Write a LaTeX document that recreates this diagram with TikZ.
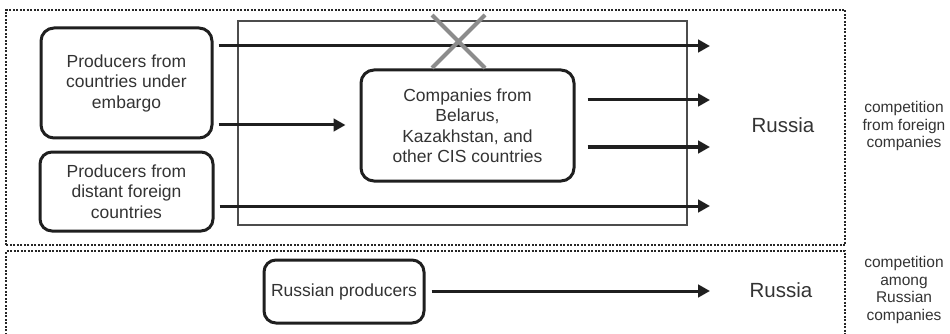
\documentclass[tikz,border=0pt]{standalone}
\usepackage{fontspec}
\setmainfont{Liberation Sans}
\usetikzlibrary{arrows.meta}
\begin{document}
\begin{tikzpicture}[x=1pt,y=-1pt,
  boxtxt/.style={font=\fontsize{17.5}{20.5}\selectfont, text=black!80},
  prodbox/.style={draw=black!88, line width=3pt, rounded corners=13pt, align=center, boxtxt, inner sep=0pt},
  arr/.style={line width=3pt, black!88, -{Triangle[length=12pt,width=12.5pt]}},
  zone/.style={black!85, line width=2.8pt, dash pattern=on 2pt off 1.5pt},
  sidetxt/.style={font=\fontsize{15.5}{17.5}\selectfont, align=center, text=black!80},
  russ/.style={font=\fontsize{20.5}{24}\selectfont, text=black!80}
]
\clip (0,0) rectangle (950,334);
\useasboundingbox (0,0) rectangle (950,334);
% zones
\draw[zone] (6,245) -- (6,10) -- (845,10) -- (845,245) -- cycle;
\draw[zone] (6,345) -- (6,251) -- (845,251) -- (845,345);
% inner rectangle
\draw[line width=1.6pt, black!70] (238,21) rectangle (687,225);
% nodes
\node[prodbox, minimum width=171pt, minimum height=110pt] (b1) at (126.5,83) {Producers from\\countries under\\embargo};
\node[prodbox, minimum width=173pt, minimum height=79pt, rounded corners=12pt] (b2) at (126.5,191.5) {Producers from\\distant foreign\\countries};
\node[prodbox, minimum width=213pt, minimum height=111pt] (b3) at (467.5,125.5) {Companies from\\Belarus,\\Kazakhstan, and\\other CIS countries};
\node[prodbox, minimum width=160pt, minimum height=63pt, rounded corners=12pt] (b4) at (344,291.5) {Russian producers};
\node[russ] (r1) at (783,125) {Russia};
\node[russ] (r2) at (781,290) {Russia};
\node[sidetxt] (c1) at (904,126) {competition\\from foreign\\companies};
\node[sidetxt] (c2) at (904,290) {competition\\among\\Russian\\companies};
% arrow end coordinates
\coordinate (tip) at (710,0);
% arrows
\draw[arr, shorten <=5pt] (b1.east |- {(0,46)}) -- (tip |- {(0,46)});
\draw[arr, shorten <=5pt, shorten >=14pt] (b1.east |- {(0,125)}) -- (b3.west |- {(0,125)});
\draw[arr, shorten <=12pt] (b3.east |- {(0,100)}) -- (tip |- {(0,100)});
\draw[arr, shorten <=12pt] (b3.east |- {(0,147)}) -- (tip |- {(0,147)});
\draw[arr, shorten <=5pt] (b2.east |- {(0,206)}) -- (tip |- {(0,206)});
\draw[arr, shorten <=6pt] (b4.east |- {(0,291)}) -- (tip |- {(0,291)});
% cross
\draw[line width=4pt, black!45] (432,15) -- (485,68) (432,68) -- (485,15);
\end{tikzpicture}
\end{document}
